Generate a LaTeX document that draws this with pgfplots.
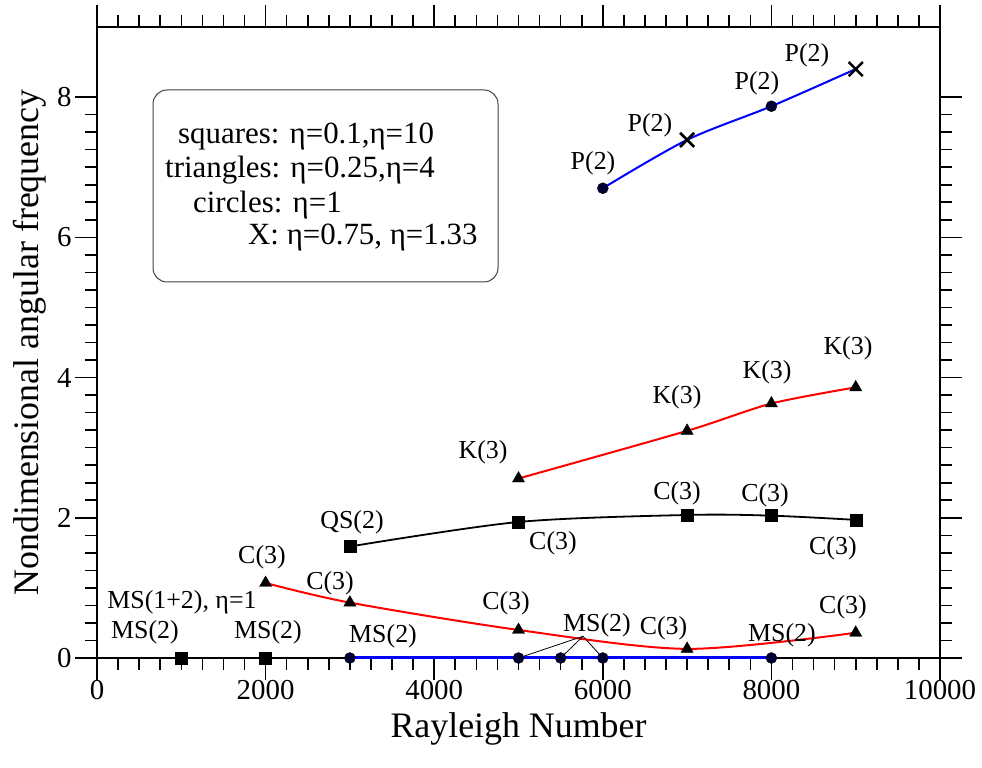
\documentclass[border=0pt]{standalone}
\usepackage{fontspec}
\setmainfont{Liberation Serif}
\usepackage{pgfplots}
\pgfplotsset{compat=1.18}
\begin{document}
\begin{tikzpicture}[x=1bp,y=1bp]
\path[use as bounding box] (-97,-110) rectangle (885,658);
\begin{axis}[
  at={(0,0)}, anchor=south west,
  scale only axis, width=843bp, height=631bp,
  xmin=0, xmax=10000, ymin=0, ymax=9,
  clip=false,
  xtick={0,2000,...,10000}, ytick={0,2,...,8},
  minor x tick num=7, minor y tick num=7,
  tick align=outside,
  major tick length=22bp, minor tick length=12bp,
  every tick/.style={black, line width=1.6bp},
  axis line style={line width=2bp},
  scaled x ticks=false,
  /pgf/number format/.cd, 1000 sep={}, assume math mode=true,
  /pgfplots/.cd,
  xticklabel={\pgfmathprintnumber{\tick}},
  yticklabel={\pgfmathprintnumber{\tick}},
  ticklabel style={font=\fontsize{29}{32}\selectfont},
  xticklabel style={yshift=3bp},
  xlabel={Rayleigh Number},
  ylabel={Nondimensional angular frequency},
  label style={font=\fontsize{36}{40}\selectfont},
  xlabel style={at={(axis description cs:0.5,-0.112)}, anchor=center},
  ylabel style={at={(axis description cs:-0.0795,0.5)}, anchor=center},
]
% lines
\addplot[black, line width=1.8bp, smooth, no marks] coordinates {(3000,1.59) (5000,1.94) (7000,2.04) (8000,2.03) (9000,1.97)};
\addplot[red, line width=2bp, smooth, tension=0.45, no marks] coordinates {(5000,2.56) (7000,3.24) (8000,3.63) (9000,3.86)};
\addplot[red, line width=2bp, smooth, no marks] coordinates {(2000,1.07) (3000,0.79) (5000,0.40) (7000,0.13) (9000,0.36)};
\addplot[blue, line width=3bp, no marks] coordinates {(3000,0) (5000,0) (5500,0) (6000,0) (8000,0)};
\addplot[blue, line width=2bp, smooth, no marks] coordinates {(6000,6.70) (7000,7.39) (8000,7.87) (9000,8.40)};
% marks
\addplot[only marks, mark=square*, mark size=6bp, black] coordinates {(1000,0) (2000,0) (3000,1.59) (5000,1.94) (7000,2.04) (8000,2.03) (9000,1.97)};
\addplot[only marks, mark=triangle*, mark size=7bp, black] coordinates {(5000,2.56) (7000,3.24) (8000,3.63) (9000,3.86) (2000,1.07) (3000,0.79) (5000,0.40) (7000,0.13) (9000,0.36)};
\addplot[only marks, mark=*, mark size=5.5bp, black, mark options={fill=black!80!blue}] coordinates {(3000,0) (5000,0) (5500,0) (6000,0) (8000,0) (6000,6.70) (8000,7.87)};
\addplot[only marks, mark=x, mark size=10bp, black, mark options={line width=2.5bp}] coordinates {(7000,7.39) (9000,8.40)};
% annotation lines
\draw[black, line width=0.8bp] (axis cs:5765,0.31) -- (axis cs:5000,0);
\draw[black, line width=0.8bp] (axis cs:5765,0.31) -- (axis cs:5500,0);
\draw[black, line width=0.8bp] (axis cs:5765,0.31) -- (axis cs:6000,0);
% annotations
\begin{scope}[every node/.style={font=\fontsize{26}{30}\selectfont, inner sep=0pt}]
\node at (axis cs:5884,7.06) {P(2)};
\node at (axis cs:6560,7.60) {P(2)};
\node at (axis cs:7829,8.20) {P(2)};
\node at (axis cs:8422,8.60) {P(2)};
\node at (axis cs:4579,2.94) {K(3)};
\node at (axis cs:6880,3.72) {K(3)};
\node at (axis cs:7948,4.07) {K(3)};
\node at (axis cs:8908,4.42) {K(3)};
\node at (axis cs:6880,2.35) {C(3)};
\node at (axis cs:7924,2.32) {C(3)};
\node at (axis cs:5409,1.64) {C(3)};
\node at (axis cs:8730,1.57) {C(3)};
\node at (axis cs:3025,1.94) {QS(2)};
\node at (axis cs:1957,1.44) {C(3)};
\node at (axis cs:2764,1.07) {C(3)};
\node at (axis cs:4852,0.78) {C(3)};
\node at (axis cs:6720,0.43) {C(3)};
\node at (axis cs:8849,0.73) {C(3)};
\node at (axis cs:1008,0.80) {MS(1+2), η=1};
\node at (axis cs:569,0.36) {MS(2)};
\node at (axis cs:2028,0.36) {MS(2)};
\node at (axis cs:3393,0.31) {MS(2)};
\node at (axis cs:5931,0.47) {MS(2)};
\node at (axis cs:8125,0.33) {MS(2)};
\end{scope}
\end{axis}
% legend box
\draw[rounded corners=14bp, line width=1bp, black!75] (56,376) rectangle (401,568);
\begin{scope}[every node/.style={font=\fontsize{31}{35}\selectfont, inner sep=0pt, anchor=west}]
\node at (81,521) {squares: η=0.1,η=10};
\node at (68,488) {triangles: η=0.25,η=4};
\node at (96,453) {circles: η=1};
\node at (151,420) {X: η=0.75, η=1.33};
\end{scope}
\end{tikzpicture}
\end{document}
